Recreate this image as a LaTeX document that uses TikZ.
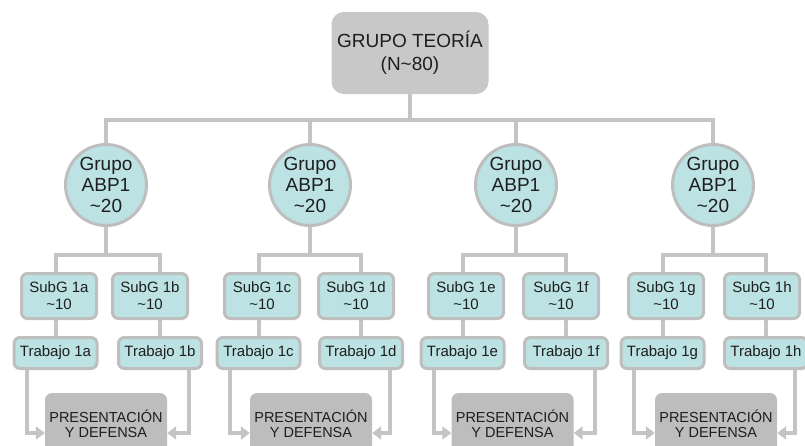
\documentclass[tikz,border=0pt]{standalone}
\usepackage{fontspec}
\setmainfont{Liberation Sans}
\usetikzlibrary{arrows.meta}
\definecolor{cy}{HTML}{BCE2E4}
\definecolor{bd}{HTML}{BEBEBE}
\definecolor{ln}{HTML}{C4C4C4}
\definecolor{topg}{HTML}{C8C8C8}
\definecolor{preg}{HTML}{BDBDBD}
\definecolor{tx}{HTML}{1E1E1E}
\pgfdeclarelayer{bg}
\pgfsetlayers{bg,main}
\tikzset{
  topbox/.style={rectangle, rounded corners=12pt, fill=topg, draw=topg, line width=1pt,
    minimum width=156pt, minimum height=81pt, inner sep=0pt, align=center,
    font=\fontsize{19}{23}\selectfont, text=tx},
  grp/.style={circle, fill=cy, draw=bd, line width=3pt, minimum size=81pt, inner sep=0pt,
    align=center, font=\fontsize{19}{21}\selectfont, text=tx},
  subbox/.style={rectangle, rounded corners=6pt, fill=cy, draw=bd, line width=3pt,
    minimum width=75pt, minimum height=45pt, inner sep=0pt, align=center,
    font=\fontsize{15}{17}\selectfont, text=tx},
  trab/.style={subbox, minimum width=83pt, minimum height=31pt},
  pres/.style={rectangle, rounded corners=7pt, fill=preg, draw=none, minimum width=122pt,
    minimum height=62pt, inner sep=0pt, align=center,
    font=\fontsize{14.5}{15}\selectfont, text=tx},
  conn/.style={draw=ln, line width=4pt},
  arr/.style={conn, -{Triangle[length=9pt,width=13pt]}}
}
\begin{document}
\begin{tikzpicture}[x=1pt,y=-1pt]
\useasboundingbox (0,0) rectangle (805,445);
\node[topbox] (top) at (410,53) {GRUPO TEORÍA\\(N\textasciitilde 80)};
\node[grp] (g1) at (106,185) {Grupo\\ABP1\\\textasciitilde 20};
\node[grp] (g2) at (310,185) {Grupo\\ABP1\\\textasciitilde 20};
\node[grp] (g3) at (516,185) {Grupo\\ABP1\\\textasciitilde 20};
\node[grp] (g4) at (713,185) {Grupo\\ABP1\\\textasciitilde 20};
\node[subbox] (sa) at (59,296) {SubG 1a\\\textasciitilde 10};
\node[subbox] (sb) at (150,296) {SubG 1b\\\textasciitilde 10};
\node[subbox] (sc) at (262,296) {SubG 1c\\\textasciitilde 10};
\node[subbox] (sd) at (356,296) {SubG 1d\\\textasciitilde 10};
\node[subbox] (se) at (466,296) {SubG 1e\\\textasciitilde 10};
\node[subbox] (sf) at (561,296) {SubG 1f\\\textasciitilde 10};
\node[subbox] (sg) at (666,296) {SubG 1g\\\textasciitilde 10};
\node[subbox] (sh) at (762,296) {SubG 1h\\\textasciitilde 10};
\node[trab] (ta) at (55.5,353) {Trabajo 1a};
\node[trab] (tb) at (160,353) {Trabajo 1b};
\node[trab] (tc) at (258.5,353) {Trabajo 1c};
\node[trab] (td) at (361,353) {Trabajo 1d};
\node[trab] (te) at (462.5,353) {Trabajo 1e};
\node[trab] (tf) at (566,353) {Trabajo 1f};
\node[trab] (tg) at (662.5,353) {Trabajo 1g};
\node[trab] (th) at (766,353) {Trabajo 1h};
\node[pres] (p1) at (106,424) {PRESENTACIÓN\\Y DEFENSA};
\node[pres] (p2) at (311,424) {PRESENTACIÓN\\Y DEFENSA};
\node[pres] (p3) at (512.5,424) {PRESENTACIÓN\\Y DEFENSA};
\node[pres] (p4) at (716,424) {PRESENTACIÓN\\Y DEFENSA};
\begin{pgfonlayer}{bg}
  \draw[conn] (top.south) -- ++(0,26) coordinate (tbus);
  \draw[conn] (g1.north) |- (tbus) -| (g4.north);
  \draw[conn] (g2.north) -- (g2.north |- tbus);
  \draw[conn] (g3.north) -- (g3.north |- tbus);
  \foreach \g/\l/\r in {g1/ta/tb, g2/tc/td, g3/te/tf, g4/tg/th}{
    \draw[conn] (\g.south) -- ++(0,28) coordinate (k);
    \draw[conn] (\l.north) |- (k) -| (\r.north);
  }
  \foreach \l/\r/\p in {ta/tb/p1, tc/td/p2, te/tf/p3, tg/th/p4}{
    \draw[arr] ([xshift=14pt]\l.south west) |- ([yshift=-9pt]\p.west);
    \draw[arr] ([xshift=-14pt]\r.south east) |- ([yshift=-9pt]\p.east);
  }
\end{pgfonlayer}
\end{tikzpicture}
\end{document}
